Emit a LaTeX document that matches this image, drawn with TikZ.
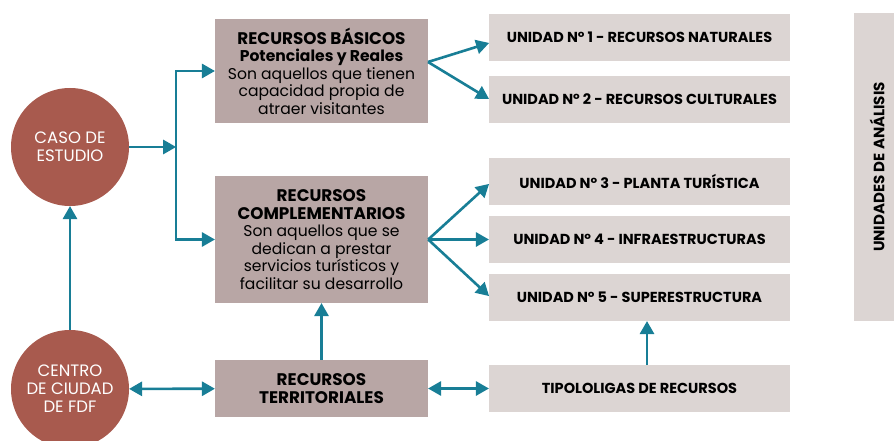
\documentclass[tikz,border=0pt]{standalone}
\usepackage{fontspec}
\setmainfont{Poppins}
\usetikzlibrary{arrows}

\definecolor{teal}{HTML}{187E96}
\definecolor{terra}{HTML}{A85A4E}
\definecolor{darkbox}{HTML}{B8A6A5}
\definecolor{lightbox}{HTML}{DCD5D3}

\newcommand{\heading}[1]{{\fontsize{16.8}{17.5}\selectfont\bfseries #1}}

\begin{document}
\begin{tikzpicture}[x=1pt,y=-1pt,>=triangle 60,
	conn/.style={draw=teal,line width=2.6pt},
	circ/.style={circle,fill=terra,minimum size=118pt,inner sep=0pt,text=white,align=center,font=\fontsize{16.5}{18}\selectfont},
	rbox/.style={fill=darkbox,minimum width=213pt,inner sep=0pt,align=center,font=\fontsize{15.6}{17.5}\selectfont},
	ubox/.style={fill=lightbox,minimum width=301pt,minimum height=47pt,inner sep=0pt,font=\fontsize{14.5}{16}\selectfont\bfseries}]
				\useasboundingbox (0,0) rectangle (894,441);

				\node[circ] (caso) at (70, 147) {CASO DE\\ESTUDIO};
				\node[circ] (centro) at (70, 389) {CENTRO\\DE CIUDAD\\DE FDF};

				\node[rbox,minimum height=104pt] (basicos) at (321.5, 71) {\heading{RECURSOS BÁSICOS}\\\textbf{Potenciales y Reales}\\Son aquellos que tienen\\capacidad propia de\\atraer visitantes};
				\node[rbox,minimum height=127pt] (compl) at (321.5, 239.5) {\heading{RECURSOS}\\\heading{COMPLEMENTARIOS}\\Son aquellos que se\\dedican a prestar\\servicios turísticos y\\facilitar su desarrollo};
				\node[rbox,minimum height=57pt] (territ) at (321.5, 388.5) {\heading{RECURSOS}\\\heading{TERRITORIALES}};

				\node[ubox] (u1) at (639.5, 37.5) {UNIDAD Nº 1 - RECURSOS NATURALES};
				\node[ubox] (u2) at (639.5, 99.5) {UNIDAD Nº 2 - RECURSOS CULTURALES};
				\node[ubox] (u3) at (639.5, 181.5) {UNIDAD Nº 3 - PLANTA TURÍSTICA};
				\node[ubox] (u4) at (639.5, 239.5) {UNIDAD Nº 4 - INFRAESTRUCTURAS};
				\node[ubox] (u5) at (639.5, 297.5) {UNIDAD Nº 5 - SUPERESTRUCTURA};
				\node[ubox] (tipo) at (639.5, 388.5) {TIPOLOLIGAS DE RECURSOS};

				\node[ubox,minimum width=40pt,minimum height=308pt] (unidades) at (874, 167) {};
				\node[rotate=90,font=\fontsize{15}{16}\selectfont\bfseries] (unidlab) at (877, 167) {UNIDADES DE ANÁLISIS};

				\coordinate (split) at (176, 147);
				\coordinate (basout) at (428, 62);
				\coordinate (u1in) at (489, 43);
				\coordinate (u2in) at (489, 99);
				\coordinate (u3in) at (489, 184);
				\coordinate (u5in) at (489, 296);

				\draw[->,conn] (caso) -- (split);
				\draw[->,conn] (split) |- (basicos.west);
				\draw[->,conn] (split) |- (compl.west);
				\draw[->,conn] (centro) -- (caso);
				\draw[<->,conn] (centro) -- (territ);
				\draw[->,conn] (territ) -- (compl);
				\draw[<->,conn] (territ) -- (tipo);
				\draw[->,conn] (tipo.north -| 647,0) -- (u5.south -| 647,0);

				\draw[->,conn] (basout) -- (u1in);
				\draw[->,conn] (basout) -- (u2in);
				\draw[->,conn] (compl.east) -- (u3in);
				\draw[->,conn] (compl.east) -- (u4);
				\draw[->,conn] (compl.east) -- (u5in);
			\end{tikzpicture}
\end{document}
